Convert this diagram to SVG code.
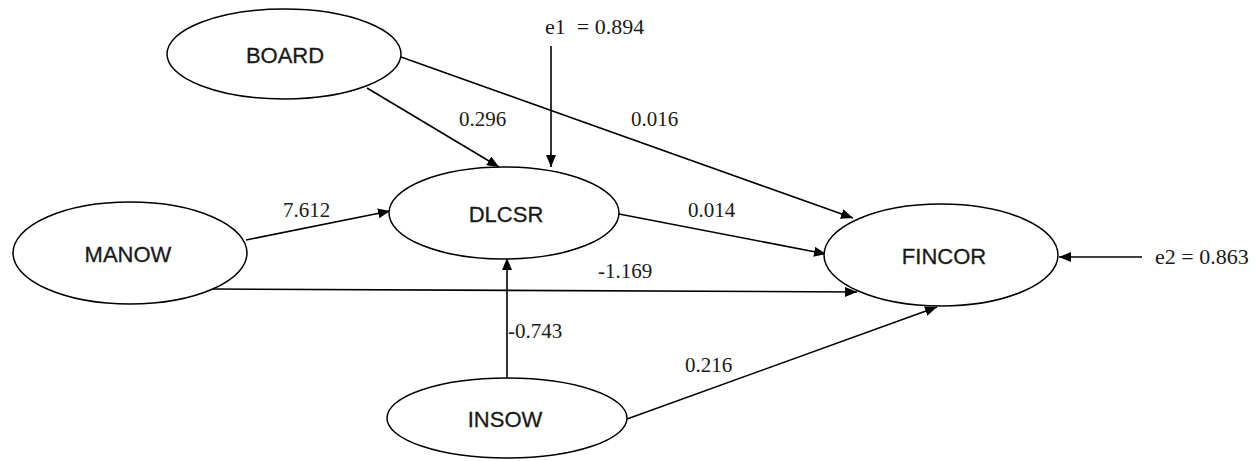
<svg xmlns="http://www.w3.org/2000/svg" width="1260" height="461" viewBox="0 0 1260 461">
<style>
.node ellipse{fill:#fff;stroke:#000;stroke-width:1.5}
.node text{font-family:"Liberation Sans",Arial,sans-serif;font-size:22px;fill:#1a1a1a;stroke:#1a1a1a;stroke-width:0.3;text-anchor:middle}
.edges line{stroke:#000;stroke-width:1.6;fill:none}
.lbl{font-family:"Liberation Serif","Times New Roman",serif;font-size:21px;fill:#1a1a1a}
.err{font-size:22px}
</style>
<defs>
<marker id="ah" viewBox="0 0 12 10" refX="12" refY="5" markerWidth="12" markerHeight="10" markerUnits="userSpaceOnUse" orient="auto">
<path d="M0,0 L12,5 L0,10 z" fill="#000"/>
</marker>
</defs>
<rect width="1260" height="461" fill="#fff"/>
<g class="edges">
<line x1="367" y1="88" x2="499" y2="167" marker-end="url(#ah)"/>
<line x1="551" y1="46" x2="551" y2="167" marker-end="url(#ah)"/>
<line x1="401" y1="57" x2="853" y2="218" marker-end="url(#ah)"/>
<line x1="246" y1="240" x2="390" y2="211" marker-end="url(#ah)"/>
<line x1="619" y1="214" x2="826" y2="254" marker-end="url(#ah)"/>
<line x1="212" y1="289" x2="857" y2="292" marker-end="url(#ah)"/>
<line x1="507" y1="378" x2="507" y2="258" marker-end="url(#ah)"/>
<line x1="627" y1="419" x2="937" y2="307" marker-end="url(#ah)"/>
<line x1="1142" y1="257" x2="1059" y2="257" marker-end="url(#ah)"/>
</g>
<g id="BOARD" class="node"><ellipse cx="284" cy="54" rx="117" ry="45"/><text x="285" y="63">BOARD</text></g>
<g id="DLCSR" class="node"><ellipse cx="504" cy="213" rx="115" ry="46"/><text x="506" y="222">DLCSR</text></g>
<g id="MANOW" class="node"><ellipse cx="130" cy="253" rx="117" ry="51"/><text x="128" y="262">MANOW</text></g>
<g id="FINCOR" class="node"><ellipse cx="941" cy="255" rx="117" ry="51"/><text x="944" y="264">FINCOR</text></g>
<g id="INSOW" class="node"><ellipse cx="507" cy="418" rx="120" ry="40"/><text x="505" y="427">INSOW</text></g>
<g id="labels">
<text class="lbl err" x="545" y="34" xml:space="preserve">e1  = 0.894</text>
<text class="lbl err" x="1155" y="264">e2 = 0.863</text>
<text class="lbl" x="459" y="126">0.296</text>
<text class="lbl" x="631" y="126">0.016</text>
<text class="lbl" x="283" y="217">7.612</text>
<text class="lbl" x="688" y="217">0.014</text>
<text class="lbl" x="598" y="278">-1.169</text>
<text class="lbl" x="508" y="338">-0.743</text>
<text class="lbl" x="685" y="372">0.216</text>
</g>
</svg>
